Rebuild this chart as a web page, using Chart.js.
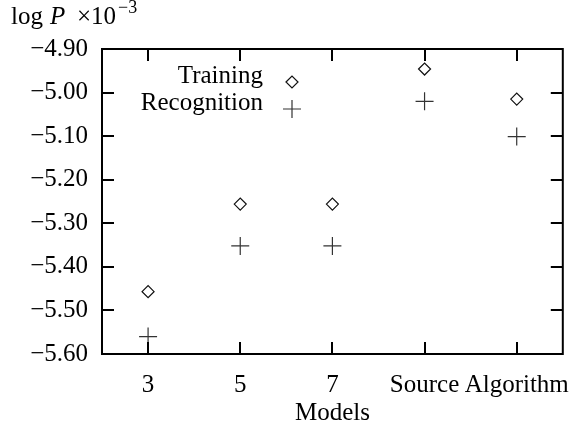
<!DOCTYPE html>
<html>
<head>
<meta charset="utf-8">
<script src="https://cdn.jsdelivr.net/npm/chart.js@4.4.1/dist/chart.umd.min.js"></script>
<style>
  html, body { margin: 0; padding: 0; background: #fff; }
  #wrap { width: 573px; height: 428px; position: relative; }
</style>
</head>
<body>
<div id="wrap"><canvas id="chart"></canvas></div>
<script>
// Data
const categories = ["3", "5", "7", "Source", "Algorithm"];
const training = [-5.457, -5.256, -5.256, -4.946, -5.015];
const recognition = [-5.56, -5.352, -5.352, -5.02, -5.101];
const yTicks = [-4.9, -5.0, -5.1, -5.2, -5.3, -5.4, -5.5, -5.6];

const FONT = "'Liberation Serif', 'Times New Roman', serif";
const TICK_LEN = 12;

// Box, inward ticks, legend and the "log P x10^-3" heading
const decorations = {
  id: "decorations",
  afterDraw(chart) {
    const { ctx, chartArea: a, scales } = chart;
    ctx.save();
    ctx.strokeStyle = "#000";
    ctx.lineWidth = 2;
    ctx.strokeRect(a.left, a.top, a.right - a.left, a.bottom - a.top);

    ctx.beginPath();
    scales.y.ticks.forEach((t) => {
      const y = Math.round(scales.y.getPixelForValue(t.value));
      ctx.moveTo(a.left, y); ctx.lineTo(a.left + TICK_LEN, y);
      ctx.moveTo(a.right, y); ctx.lineTo(a.right - TICK_LEN, y);
    });
    categories.forEach((c, i) => {
      const x = Math.round(scales.x.getPixelForValue(i));
      ctx.moveTo(x, a.bottom); ctx.lineTo(x, a.bottom - TICK_LEN);
      ctx.moveTo(x, a.top); ctx.lineTo(x, a.top + TICK_LEN);
    });
    ctx.stroke();

    // legend: text right-aligned, marker after it
    ctx.font = "25px " + FONT;
    ctx.textAlign = "right";
    ctx.textBaseline = "alphabetic";
    const rows = [83, 110];
    chart.data.datasets.forEach((ds, i) => {
      ctx.fillStyle = "#000";
      ctx.fillText(ds.label, 263, rows[i]);
      ctx.fillStyle = "rgba(0,0,0,0)";
      ctx.lineWidth = ds.borderWidth;
      ctx.strokeStyle = ds.borderColor;
      Chart.helpers.drawPoint(ctx, {
        pointStyle: ds.pointStyle,
        radius: ds.pointRadius,
        rotation: 0,
        borderWidth: ds.borderWidth,
      }, 292, rows[i] - 1);
    });

    // heading
    ctx.fillStyle = "#000";
    ctx.textAlign = "left";
    const base = 24;
    ctx.font = "25px " + FONT;
    ctx.fillText("log", 11, base);
    ctx.font = "italic 25px " + FONT;
    ctx.fillText("P", 50, base);
    ctx.font = "25px " + FONT;
    ctx.fillText("\u00d710", 77, base);
    const x = 77 + ctx.measureText("\u00d710").width + 2;
    ctx.font = "18px " + FONT;
    ctx.fillText("\u22123", x, base - 11);
    ctx.restore();
  },
};

new Chart(document.getElementById("chart"), {
  type: "line",
  data: {
    labels: categories,
    datasets: [
      {
        label: "Training",
        data: training,
        showLine: false,
        pointStyle: "rectRot",
        pointRadius: 6,
        borderColor: "#111",
        backgroundColor: "rgba(0,0,0,0)",
        borderWidth: 1.2,
      },
      {
        label: "Recognition",
        data: recognition,
        showLine: false,
        pointStyle: "cross",
        pointRadius: 9,
        borderColor: "#333",
        backgroundColor: "rgba(0,0,0,0)",
        borderWidth: 1.2,
      },
    ],
  },
  options: {
    responsive: true,
    maintainAspectRatio: false,
    animation: false,
    layout: { padding: { top: 49, right: 8, left: 0, bottom: 0 } },
    plugins: { legend: { display: false }, tooltip: { enabled: false } },
    scales: {
      x: {
        type: "category",
        offset: true,
        grid: { display: false, drawTicks: false },
        border: { display: false },
        ticks: {
          autoSkip: false,
          maxRotation: 0,
          padding: 16,
          color: "#000",
          font: { family: FONT, size: 25 },
        },
        title: {
          display: true,
          text: "Models",
          color: "#000",
          font: { family: FONT, size: 25 },
          padding: { top: 0, bottom: 0 },
        },
        afterFit: (scale) => {
          scale.height = 74;
          scale.paddingLeft = 0;
          scale.paddingRight = 0;
        },
      },
      y: {
        min: -5.6,
        max: -4.9,
        grid: { display: false, drawTicks: false },
        border: { display: false },
        afterBuildTicks: (scale) => { scale.ticks = yTicks.map((v) => ({ value: v })); },
        ticks: {
          padding: 14,
          color: "#000",
          font: { family: FONT, size: 25 },
          callback: (v) => v.toFixed(2).replace("-", "\u2212"),
        },
        afterFit: (scale) => { scale.width = 102; },
      },
    },
  },
  plugins: [decorations],
});
</script>
</body>
</html>
